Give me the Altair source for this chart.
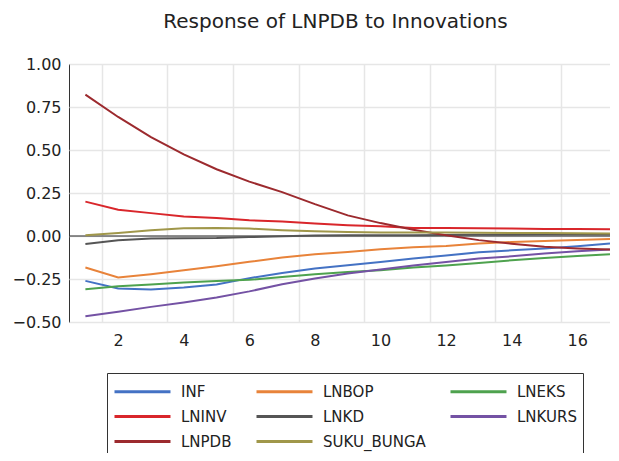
import altair as alt
import pandas as pd

periods = list(range(1, 18))
series_names = ["INF", "LNBOP", "LNEKS", "LNINV", "LNKD", "LNKURS", "LNPDB", "SUKU_BUNGA"]
series_colors = ["#4472C4", "#E8833A", "#4EA24E", "#D9262B", "#555555", "#7452A4", "#9C2A2E", "#A0974A"]
# legend fills column by column: this order yields rows INF/LNBOP/LNEKS, LNINV/LNKD/LNKURS, LNPDB/SUKU_BUNGA
legend_order = ["INF", "LNINV", "LNPDB", "LNBOP", "LNKD", "SUKU_BUNGA", "LNEKS", "LNKURS"]

INF = [-0.261, -0.305, -0.311, -0.300, -0.282, -0.245, -0.215, -0.189, -0.170, -0.151, -0.131, -0.114, -0.095, -0.083, -0.073, -0.060, -0.044]
LNBOP = [-0.183, -0.241, -0.222, -0.199, -0.176, -0.150, -0.125, -0.106, -0.093, -0.077, -0.066, -0.058, -0.044, -0.035, -0.029, -0.023, -0.017]
LNEKS = [-0.309, -0.292, -0.282, -0.270, -0.261, -0.255, -0.238, -0.222, -0.209, -0.199, -0.183, -0.172, -0.157, -0.141, -0.128, -0.116, -0.106]
LNINV = [0.200, 0.153, 0.133, 0.114, 0.104, 0.091, 0.085, 0.072, 0.062, 0.056, 0.047, 0.047, 0.045, 0.043, 0.041, 0.040, 0.039]
LNKD = [-0.046, -0.025, -0.014, -0.013, -0.012, -0.006, -0.002, 0.003, 0.004, 0.005, 0.005, 0.006, 0.007, 0.007, 0.008, 0.008, 0.008]
LNKURS = [-0.466, -0.441, -0.412, -0.386, -0.357, -0.322, -0.280, -0.247, -0.218, -0.195, -0.172, -0.151, -0.131, -0.118, -0.102, -0.089, -0.079]
LNPDB = [0.822, 0.692, 0.575, 0.474, 0.388, 0.316, 0.255, 0.185, 0.120, 0.075, 0.036, 0.004, -0.024, -0.045, -0.062, -0.072, -0.078]
SUKU_BUNGA = [0.004, 0.018, 0.033, 0.045, 0.047, 0.043, 0.033, 0.027, 0.023, 0.020, 0.020, 0.020, 0.019, 0.018, 0.017, 0.016, 0.015]

x_grid_values = [1.5, 3.5, 5.5, 7.5, 9.5, 11.5, 13.5, 15.5]
y_tick_values = [-0.5, -0.25, 0.0, 0.25, 0.5, 0.75, 1.0]

series_values = [INF, LNBOP, LNEKS, LNINV, LNKD, LNKURS, LNPDB, SUKU_BUNGA]
rows = []
for name, vals in zip(series_names, series_values):
    for p, v in zip(periods, vals):
        rows.append({"period": p, "value": v, "series": name})
df = pd.DataFrame(rows)

color_of = dict(zip(series_names, series_colors))

FONT = "DejaVu Sans"
W = 541
H = 258
x_unit = W / 16.5

zero = alt.Chart(pd.DataFrame({"z": [0.0]})).mark_rule(color="#222222", strokeWidth=1).encode(
    y=alt.Y("z:Q", scale=alt.Scale(domain=[-0.5, 1.0]))
)

lines = alt.Chart(df).mark_line(strokeWidth=2, clip=True).encode(
    x=alt.X(
        "period:Q",
        scale=alt.Scale(domain=[0.5, 17.0], nice=False, zero=False),
        axis=alt.Axis(
            values=x_grid_values,
            labelExpr="datum.value + 0.5",
            labelOffset=x_unit / 2,
            title=None,
            grid=True,
            ticks=False,
            domain=False,
            labelFont=FONT,
            labelFontSize=16,
            labelColor="#222222",
            labelPadding=10,
        ),
    ),
    y=alt.Y(
        "value:Q",
        scale=alt.Scale(domain=[-0.5, 1.0], nice=False, zero=False),
        axis=alt.Axis(
            values=y_tick_values,
            format=".2f",
            title=None,
            grid=True,
            ticks=False,
            domain=False,
            labelFont=FONT,
            labelFontSize=16,
            labelColor="#222222",
            labelPadding=8,
        ),
    ),
    color=alt.Color(
        "series:N",
        scale=alt.Scale(domain=legend_order, range=[color_of[n] for n in legend_order]),
        sort=legend_order,
        legend=alt.Legend(
            title=None,
            orient="none",
            legendX=38,
            legendY=309,
            columns=3,
            columnPadding=18,
            rowPadding=4,
            padding=6,
            symbolType="M-1,0H4.09",
            symbolSize=484,
            symbolStrokeWidth=3,
            labelFont=FONT,
            labelFontSize=15,
            labelColor="#222222",
            labelOffset=43,
            strokeColor="#333333",
            fillColor="white",
        ),
    ),
)

chart = (
    alt.layer(zero, lines)
    .properties(
        width=W,
        height=H,
        title=alt.TitleParams(
            "Response of LNPDB to Innovations",
            font=FONT,
            fontSize=20,
            fontWeight="normal",
            color="#222222",
            anchor="middle",
            dx=-4,
            offset=24,
        ),
        autosize=alt.AutoSizeParams(type="none"),
        padding={"left": 61, "top": 56, "right": 0, "bottom": 131},
    )
    .configure_view(stroke="#333333", strokeWidth=1)
    .configure_axis(gridColor="#e6e6e6", gridWidth=1.5)
)

chart.save("out.html", embed_options={"renderer": "svg", "actions": False})
